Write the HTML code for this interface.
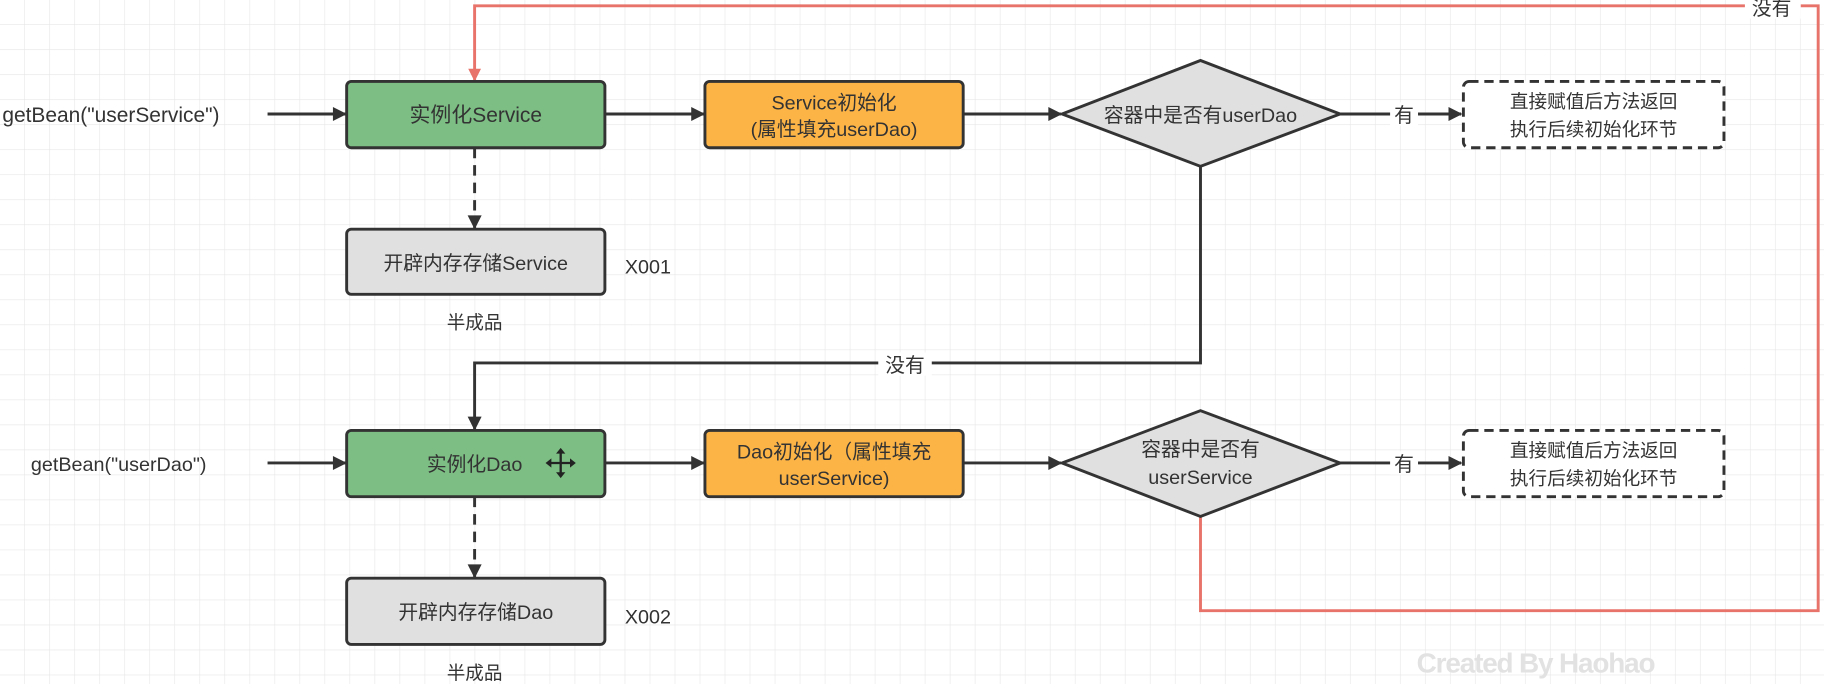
<!DOCTYPE html>
<html><head><meta charset="utf-8"><style>
html,body{margin:0;padding:0;background:#fff;}
svg{display:block;}
text{font-family:"Liberation Sans","Noto Sans CJK SC",sans-serif;fill:#333;}
</style></head><body>
<svg width="1824" height="684" viewBox="0 0 1568 588" xmlns="http://www.w3.org/2000/svg">
<defs>
<pattern id="g" width="21.5" height="21.5" patternUnits="userSpaceOnUse">
<path d="M21.5 0V21.5H0" fill="none" stroke="#e6e6e6" stroke-width="1"/>
</pattern>
<marker id="ar" viewBox="0 0 10 10" refX="9" refY="5" markerWidth="14" markerHeight="12" orient="auto" markerUnits="userSpaceOnUse"><path d="M0 0L10 5L0 10z" fill="#333"/></marker>
<marker id="rr" viewBox="0 0 10 10" refX="9" refY="5" markerWidth="11" markerHeight="11" orient="auto" markerUnits="userSpaceOnUse"><path d="M0 0L10 5L0 10z" fill="#e8736a"/></marker>
</defs>
<rect width="1568" height="588" fill="url(#g)"/>

<polyline points="1032,444 1032,525 1563,525 1563,5 408,5 408,69" fill="none" stroke="#e8736a" stroke-width="2.5" marker-end="url(#rr)"/>
<rect x="1500" y="-2" width="48" height="18" fill="#fff"/>
<text x="1523" y="13" font-size="17" text-anchor="middle" fill="#555">没有</text>

<g stroke="#333" stroke-width="2.5" fill="none">
<line x1="230" y1="98" x2="297" y2="98" marker-end="url(#ar)"/>
<line x1="520" y1="98" x2="605" y2="98" marker-end="url(#ar)"/>
<line x1="828" y1="98" x2="912" y2="98" marker-end="url(#ar)"/>
<line x1="1152" y1="98" x2="1256" y2="98" marker-end="url(#ar)"/>
<line x1="408" y1="127" x2="408" y2="196" stroke-dasharray="9,6" marker-end="url(#ar)"/>
<polyline points="1032,143 1032,312 408,312 408,369" marker-end="url(#ar)"/>
<line x1="230" y1="398" x2="297" y2="398" marker-end="url(#ar)"/>
<line x1="520" y1="398" x2="605" y2="398" marker-end="url(#ar)"/>
<line x1="828" y1="398" x2="912" y2="398" marker-end="url(#ar)"/>
<line x1="1152" y1="398" x2="1256" y2="398" marker-end="url(#ar)"/>
<line x1="408" y1="427" x2="408" y2="496" stroke-dasharray="9,6" marker-end="url(#ar)"/>
</g>
<rect x="1195" y="88" width="24" height="20" fill="#fff"/>
<text x="1207" y="105" font-size="17" text-anchor="middle">有</text>
<rect x="1195" y="388" width="24" height="20" fill="#fff"/>
<text x="1207" y="405" font-size="17" text-anchor="middle">有</text>
<rect x="755" y="303" width="46" height="20" fill="#fff"/>
<text x="778" y="320" font-size="17" text-anchor="middle">没有</text>

<text x="2" y="105" font-size="18">getBean("userService")</text>
<rect x="298" y="70" width="222" height="57" rx="4" fill="#7dbe84" stroke="#333" stroke-width="2.5"/>
<text x="409" y="105" font-size="18" text-anchor="middle">实例化Service</text>
<rect x="606" y="70" width="222" height="57" rx="4" fill="#fdb447" stroke="#333" stroke-width="2.5"/>
<text x="717" y="94" font-size="17" text-anchor="middle">Service初始化</text>
<text x="717" y="117" font-size="17" text-anchor="middle">(属性填充userDao)</text>
<polygon points="913,98 1032,52 1152,98 1032,143" fill="#e0e0e0" stroke="#333" stroke-width="2.5"/>
<text x="1032" y="105" font-size="17" text-anchor="middle">容器中是否有userDao</text>
<rect x="1258" y="70" width="224" height="57" rx="5" fill="#fff" stroke="#333" stroke-width="2.5" stroke-dasharray="8,5"/>
<text x="1370" y="93" font-size="16" text-anchor="middle">直接赋值后方法返回</text>
<text x="1370" y="117" font-size="16" text-anchor="middle">执行后续初始化环节</text>
<rect x="298" y="197" width="222" height="56" rx="4" fill="#e0e0e0" stroke="#333" stroke-width="2.5"/>
<text x="409" y="232" font-size="17" text-anchor="middle">开辟内存存储Service</text>
<text x="557" y="235" font-size="17" text-anchor="middle">X001</text>
<text x="408" y="283" font-size="16" text-anchor="middle">半成品</text>

<text x="102" y="405" font-size="17" text-anchor="middle">getBean("userDao")</text>
<rect x="298" y="370" width="222" height="57" rx="4" fill="#7dbe84" stroke="#333" stroke-width="2.5"/>
<text x="408" y="405" font-size="17" text-anchor="middle">实例化Dao</text>
<g stroke="#222" stroke-width="2" fill="none"><line x1="472" y1="398" x2="492" y2="398"/><line x1="482" y1="388" x2="482" y2="408"/></g>
<g fill="#222"><path d="M482 385l-4 5h8z"/><path d="M482 411l-4-5h8z"/><path d="M469 398l5-4v8z"/><path d="M495 398l-5-4v8z"/></g>
<rect x="606" y="370" width="222" height="57" rx="4" fill="#fdb447" stroke="#333" stroke-width="2.5"/>
<text x="717" y="394" font-size="17" text-anchor="middle">Dao初始化（属性填充</text>
<text x="717" y="417" font-size="17" text-anchor="middle">userService)</text>
<polygon points="913,398 1032,353 1152,398 1032,444" fill="#e0e0e0" stroke="#333" stroke-width="2.5"/>
<text x="1032" y="392" font-size="17" text-anchor="middle">容器中是否有</text>
<text x="1032" y="416" font-size="17" text-anchor="middle">userService</text>
<rect x="1258" y="370" width="224" height="57" rx="5" fill="#fff" stroke="#333" stroke-width="2.5" stroke-dasharray="8,5"/>
<text x="1370" y="393" font-size="16" text-anchor="middle">直接赋值后方法返回</text>
<text x="1370" y="417" font-size="16" text-anchor="middle">执行后续初始化环节</text>
<rect x="298" y="497" width="222" height="57" rx="4" fill="#e0e0e0" stroke="#333" stroke-width="2.5"/>
<text x="409" y="532" font-size="17" text-anchor="middle">开辟内存存储Dao</text>
<text x="557" y="536" font-size="17" text-anchor="middle">X002</text>
<text x="408" y="584" font-size="16" text-anchor="middle">半成品</text>

<text x="1320" y="578" font-size="24" font-weight="bold" text-anchor="middle" style="fill:#e2e2e2" letter-spacing="-1">Created By Haohao</text>
</svg>
</body></html>
